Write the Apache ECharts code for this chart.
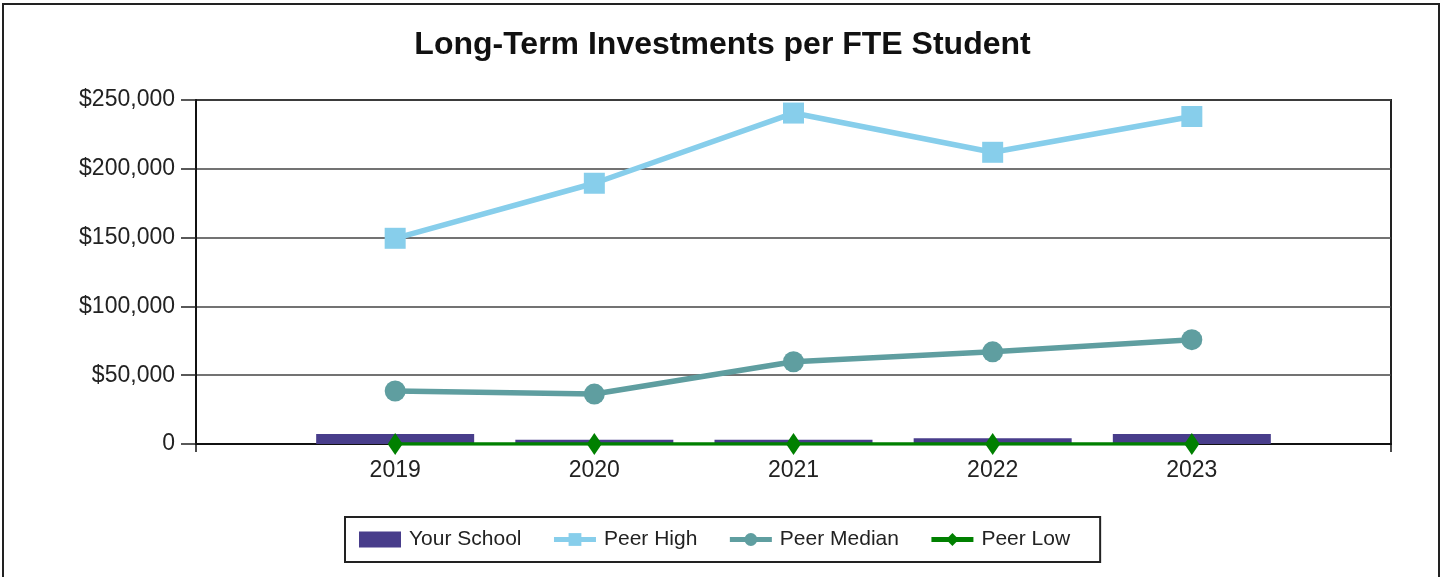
<!DOCTYPE html>
<html>
<head>
<meta charset="utf-8">
<script src="https://cdn.jsdelivr.net/npm/echarts@6/dist/echarts.min.js"></script>
<style>
html,body{margin:0;padding:0;background:#fff;}
#chart{width:1445px;height:577px;}
</style>
</head>
<body>
<div id="chart"></div>
<script>
var years = ['2019', '2020', '2021', '2022', '2023'];
var yourSchool = [7300, 3000, 3000, 4200, 7300];
var peerHigh = [149500, 189500, 240500, 212000, 238000];
var peerMedian = [38500, 36300, 59800, 67000, 75800];
var peerLow = [0, 0, 0, 0, 0];
var yTicks = [0, 50000, 100000, 150000, 200000, 250000];

function pad(arr) { return [null].concat(arr).concat([null]); }
var FONT = '"Liberation Sans", Arial, sans-serif';

var chart = echarts.init(document.getElementById('chart'), null, {renderer: 'canvas'});
chart.setOption({
  animation: false,
  backgroundColor: '#fff',
  title: {
    text: 'Long-Term Investments per FTE Student',
    left: 'center',
    top: 24,
    textStyle: {fontFamily: FONT, fontSize: 32, fontWeight: 'bold', color: '#111'}
  },
  graphic: [{
    type: 'rect',
    shape: {x: 3, y: 4, width: 1436, height: 620},
    style: {fill: 'none', stroke: '#222', lineWidth: 2},
    silent: true
  }],
  grid: {
    left: 196, right: 54, top: 100, bottom: 133,
    show: true, borderColor: '#222', borderWidth: 2, backgroundColor: 'transparent'
  },
  legend: {
    left: 345, top: 517,
    padding: [12, 30, 12, 14],
    borderColor: '#222', borderWidth: 2,
    itemWidth: 42, itemHeight: 16, itemGap: 30,
    lineStyle: {width: 5},
    textStyle: {fontFamily: FONT, fontSize: 21, color: '#222', padding: [0, 0, 0, 3]},
    data: [
      {name: 'Your School', icon: 'rect'},
      {name: 'Peer High'},
      {name: 'Peer Median'},
      {name: 'Peer Low'}
    ]
  },
  xAxis: {
    type: 'category',
    data: [''].concat(years).concat(['']),
    boundaryGap: false,
    axisLine: {lineStyle: {color: '#111', width: 2}},
    axisTick: {show: true, length: 8, lineStyle: {color: '#111', width: 1.5}},
    axisLabel: {fontFamily: FONT, fontSize: 23, color: '#222', margin: 15},
    splitLine: {show: false}
  },
  yAxis: {
    type: 'value',
    min: yTicks[0], max: yTicks[yTicks.length - 1], interval: 50000,
    axisLine: {show: true, lineStyle: {color: '#111', width: 2}},
    axisTick: {show: true, length: 15, lineStyle: {color: '#222', width: 1.5}},
    axisLabel: {
      fontFamily: FONT, fontSize: 23, color: '#222', margin: 21,
      formatter: function (v) { return v === 0 ? '0' : '$' + v.toLocaleString('en-US'); }
    },
    splitLine: {show: true, lineStyle: {color: '#444', width: 1.5}}
  },
  series: [
    {
      name: 'Your School', type: 'bar', data: pad(yourSchool),
      barWidth: 158,
      itemStyle: {color: '#483D8B'}
    },
    {
      name: 'Peer High', type: 'line', data: pad(peerHigh),
      symbol: 'rect', symbolSize: 21, showAllSymbol: true,
      lineStyle: {color: '#87CEEB', width: 5.5},
      itemStyle: {color: '#87CEEB'}
    },
    {
      name: 'Peer Median', type: 'line', data: pad(peerMedian),
      symbol: 'circle', symbolSize: 21,
      lineStyle: {color: '#5F9EA0', width: 5.5},
      itemStyle: {color: '#5F9EA0'}
    },
    {
      name: 'Peer Low', type: 'line', data: pad(peerLow),
      symbol: 'diamond', symbolSize: [15, 22],
      lineStyle: {color: '#008000', width: 3.5},
      itemStyle: {color: '#008000'}
    }
  ]
});
</script>
</body>
</html>
